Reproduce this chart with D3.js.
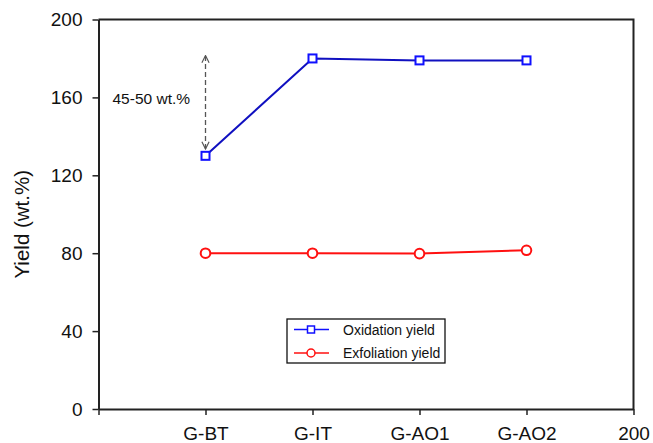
<!DOCTYPE html>
<html>
<head>
<script src="https://d3js.org/d3.v7.min.js"></script>
<style>
  body { margin: 0; background: #fff; }
  text { font-family: Arial, "Liberation Sans", sans-serif; fill: #111; }
</style>
</head>
<body>
<svg id="chart" width="653" height="443"></svg>
<script>
// chart data
var categories = ["G-BT", "G-IT", "G-AO1", "G-AO2"];
var oxidationYield = [130, 180, 179, 179];
var exfoliationYield = [80, 80, 79.8, 81.5];
var yTicks = [0, 40, 80, 120, 160, 200];
var xTickLabels = ["", "G-BT", "G-IT", "G-AO1", "G-AO2", "200"];
var arrowRange = [133.5, 181.5];   // the "45-50 wt.%" gap at G-BT
var seriesNames = ["Oxidation yield", "Exfoliation yield"];

var margin = {left: 98.5, top: 19.5, right: 19.5, bottom: 34};
var width = 653 - margin.left - margin.right;
var height = 443 - margin.top - margin.bottom;

var svg = d3.select("#chart");
var g = svg.append("g").attr("transform", "translate(" + margin.left + "," + margin.top + ")");

var xScale = d3.scaleLinear().domain([0, 5]).range([0, width]);
var yScale = d3.scaleLinear().domain([0, 200]).range([height, 0]);

// frame (top + right)
g.append("path")
  .attr("d", "M0,0H" + width + "V" + height)
  .attr("fill", "none").attr("stroke", "#222").attr("stroke-width", 2);

var axisX = d3.axisBottom(xScale)
  .tickValues(d3.range(0, 6))
  .tickFormat(function(d) { return xTickLabels[d]; })
  .tickSize(6).tickSizeOuter(0).tickPadding(12);

var gx = g.append("g").attr("transform", "translate(0," + height + ")").call(axisX);

var axisY = d3.axisLeft(yScale)
  .tickValues(yTicks)
  .tickSize(6).tickSizeOuter(0).tickPadding(10);

var gy = g.append("g").call(axisY);

[gx, gy].forEach(function(a) {
  a.select(".domain").attr("stroke", "#222").attr("stroke-width", 2);
  a.selectAll(".tick line").attr("stroke", "#222").attr("stroke-width", 1.5);
  a.selectAll("text").attr("font-size", 19).attr("font-family", "Arial, 'Liberation Sans', sans-serif").attr("fill", "#111");
});

// y axis title
svg.append("text")
  .attr("transform", "translate(29," + (margin.top + height / 2 + 10) + ") rotate(-90)")
  .attr("text-anchor", "middle")
  .attr("font-size", 20.5)
  .text("Yield (wt.%)");

var line = d3.line()
  .x(function(d, i) { return xScale(i + 1); })
  .y(function(d) { return yScale(d); });

// annotation arrow
var defs = svg.append("defs");
defs.append("marker")
  .attr("id", "chev").attr("viewBox", "0 0 10 10")
  .attr("refX", 9).attr("refY", 5)
  .attr("markerWidth", 9).attr("markerHeight", 9)
  .attr("markerUnits", "userSpaceOnUse")
  .attr("orient", "auto-start-reverse")
  .append("path").attr("d", "M1,1L9,5L1,9")
  .attr("fill", "none").attr("stroke", "#555").attr("stroke-width", 1.3);

g.append("line")
  .attr("x1", xScale(1)).attr("x2", xScale(1))
  .attr("y1", yScale(arrowRange[0])).attr("y2", yScale(arrowRange[1]))
  .attr("stroke", "#555").attr("stroke-width", 1.3)
  .attr("stroke-dasharray", "5,3")
  .attr("marker-start", "url(#chev)").attr("marker-end", "url(#chev)");

g.append("text")
  .attr("x", xScale(1) - 93).attr("y", yScale(156.5))
  .attr("font-size", 15.5)
  .text("45-50 wt.%");

// exfoliation series
g.append("path").datum(exfoliationYield)
  .attr("d", line).attr("fill", "none").attr("stroke", "#ff1010").attr("stroke-width", 2);
g.selectAll(".exf").data(exfoliationYield).enter().append("circle")
  .attr("cx", function(d, i) { return xScale(i + 1); })
  .attr("cy", function(d) { return yScale(d); })
  .attr("r", 4.8).attr("fill", "#fff").attr("stroke", "#ff1010").attr("stroke-width", 2);

// oxidation series
g.append("path").datum(oxidationYield)
  .attr("d", line).attr("fill", "none").attr("stroke", "#1010c0").attr("stroke-width", 2);
g.selectAll(".oxi").data(oxidationYield).enter().append("rect")
  .attr("x", function(d, i) { return xScale(i + 1) - 4; })
  .attr("y", function(d) { return yScale(d) - 4; })
  .attr("width", 8).attr("height", 8)
  .attr("fill", "#fff").attr("stroke", "#1010ff").attr("stroke-width", 2);

// legend
var lg = svg.append("g").attr("transform", "translate(287,319)");
lg.append("rect").attr("width", 158).attr("height", 44)
  .attr("fill", "#fff").attr("stroke", "#111").attr("stroke-width", 1.3);

var colors = ["#1010ff", "#ff1010"];
seriesNames.forEach(function(name, i) {
  var yy = 10.5 + i * 23.5;
  lg.append("line").attr("x1", 7).attr("x2", 42).attr("y1", yy).attr("y2", yy)
    .attr("stroke", colors[i]).attr("stroke-width", 1.5);
  if (i === 0) {
    lg.append("rect").attr("x", 20.5).attr("y", yy - 3.5).attr("width", 7).attr("height", 7)
      .attr("fill", "#fff").attr("stroke", colors[i]).attr("stroke-width", 1.5);
  } else {
    lg.append("circle").attr("cx", 24).attr("cy", yy).attr("r", 4)
      .attr("fill", "#fff").attr("stroke", colors[i]).attr("stroke-width", 1.5);
  }
  lg.append("text").attr("x", 56).attr("y", yy + 5)
    .attr("font-size", 14).text(name);
});
</script>
</body>
</html>
